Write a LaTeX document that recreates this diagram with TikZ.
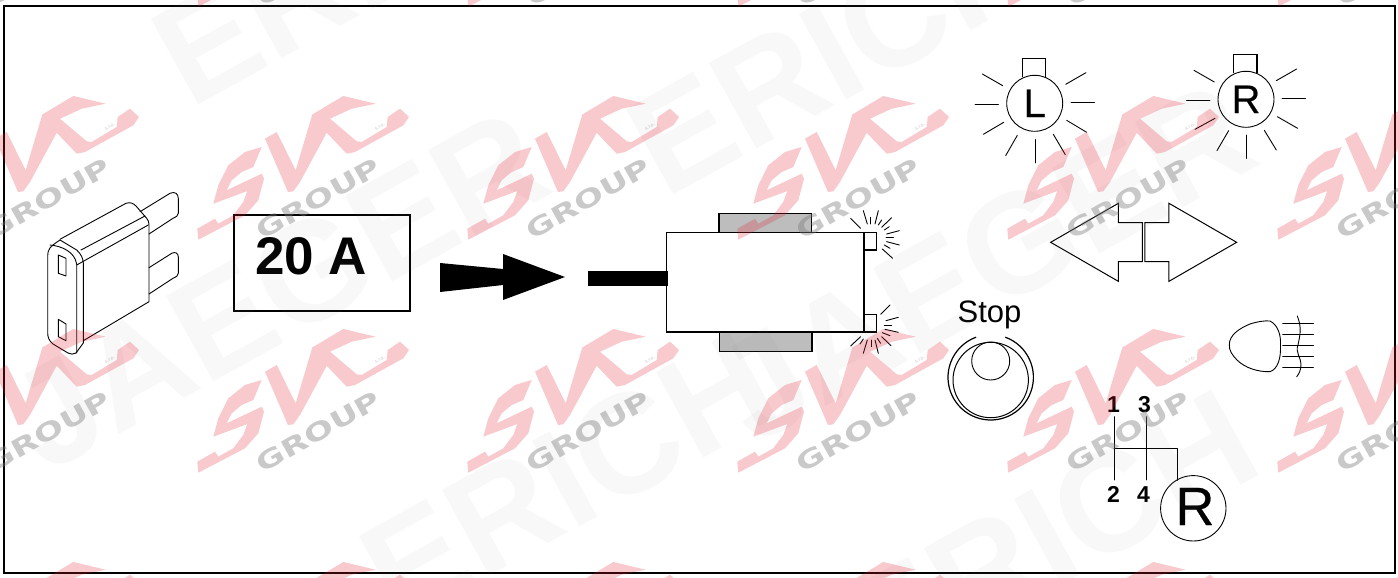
\documentclass[tikz,border=0pt]{standalone}
\usepackage{fontspec}
\setmainfont{Liberation Sans}
\newfontfamily\wmfont{DejaVu Sans}
\newfontfamily\fatsans[FakeBold=0.4]{Liberation Sans}
\definecolor{wmred}{RGB}{228,30,48}
\definecolor{wmgrey}{RGB}{120,120,120}
\definecolor{wmpale}{RGB}{130,130,130}
\definecolor{padgrey}{RGB}{189,189,189}
\tikzset{
  x=1pt,y=-1pt,
  thinln/.style={draw=black,line width=0.9pt,line cap=round,line join=round},
  midln/.style={draw=black,line width=1.2pt,line join=miter},
  frameln/.style={draw=black,line width=2pt},
  lampcirc/.style={circle,draw=black,line width=0.9pt,fill=white,minimum size=56pt,inner sep=0pt,font=\fatsans\fontsize{40}{40}\selectfont},
  gearlabel/.style={inner sep=0pt,font=\bfseries\fontsize{23}{23}\selectfont},
  bigwm/.style={inner sep=0pt,rotate=29,text=wmpale,opacity=0.055,font=\bfseries\fontsize{142}{142}\selectfont},
}
\newcommand{\raylist}[1]{\foreach \a/\b/\c/\d in {#1}{\draw[thinln] (\a,\b) -- (\c,\d);}}
\begin{document}
\begin{tikzpicture}
\useasboundingbox (0,0) rectangle (1398,578);
\clip (0,0) rectangle (1398,578);
\fill[white] (0,0) rectangle (1398,578);

% frame
\draw[frameln] (3.5,6) rectangle (1395,573);

% fuse
\begin{scope}[thinln]
\draw (140,211.7) -- (170,193.3) .. controls (175,191) and (178.3,194) .. (178.3,198.3) -- (178.3,213.3) .. controls (178.3,216) and (176,217) .. (173,218.3) -- (149,234);
\draw (149,267.7) -- (171.7,253.3) .. controls (175,251.5) and (178.3,253) .. (178.3,256.7) -- (178.3,273.3) .. controls (178.3,276) and (176,277) .. (173,278.3) -- (149,294);
\draw (60,239.3) -- (126,203.3) .. controls (130,202) and (133,203) .. (136,206) -- (146.7,218.3) .. controls (148.5,220.5) and (149,222) .. (149,225) -- (149,301.7) -- (83.3,340.7);
\draw (76.7,265) -- (148.3,225);
\draw (81,250) -- (145,216);
\draw (47.7,256) .. controls (47.7,250) and (49,247) .. (60,240) -- (76.7,250) .. controls (81,254) and (83,258) .. (83.3,263) -- (83.3,343) -- (76,353) .. controls (73,354.5) and (71,354.5) .. (68,353) -- (53,344) .. controls (49,341) and (47.7,337) .. (47.7,333) -- cycle;
\draw (50,245) .. controls (62,246) and (75,252) .. (76.7,264.3) -- (76.7,353);
\draw (58.3,255) -- (66,258.3) -- (66,276) -- (58.3,273.3) -- cycle;
\draw (58.3,319.3) -- (66,324) -- (66,340.7) -- (58.3,336.7) -- cycle;
\end{scope}

% 20 A
\node[draw=black,line width=2pt,minimum width=176pt,minimum height=96pt,inner sep=0pt] (ampbox) at (322,263) {};
\node[inner sep=0pt,font=\bfseries\fontsize{53}{53}\selectfont] (amptext) at (311,256.5) {20 A};

% arrow
\fill[black] (440,263) -- (503,269) -- (503,254) -- (565,277) -- (503,300) -- (503,285) -- (440,292) -- cycle;

% module
\draw[midln,fill=padgrey] (719,213.3) rectangle (811.3,232.7);
\draw[midln,fill=padgrey] (719.3,332) rectangle (812,351.3);
\node[draw=black,line width=1.2pt,minimum width=197.3pt,minimum height=99.3pt,inner sep=0pt] (module) at (765.35,282.35) {};
\node[fill=black,minimum width=80pt,minimum height=15pt,inner sep=0pt] (bar) at (628,278.7) {};
\draw[midln] (864,232.7) rectangle (876.7,250);
\draw[midln] (864,314.3) rectangle (876.7,332);
\begin{scope}[shift={(650,190)},x=0.3333pt,y=-0.3333pt]
\raylist{602/85/632/115,640/62/652/102,662/82/662/102,685/62/675/102,695/90/685/105,725/83/695/112,718/110/703/120,748/122/710/132,730/142/708/142,748/165/710/155,720/175/703/165,728/205/697/177}
\raylist{720/345/692/373,745/382/708/392,725/405/703/405,745/427/705/418,720/437/697/428,723/467/695/440,692/460/682/445,685/490/675/450,665/470/665/450,640/490/652/450,630/462/640/447,602/468/632/440}
\end{scope}

% lamps
\begin{scope}[shift={(960,40)},x=0.3333pt,y=-0.3333pt]
\draw[midln] (187,110) -- (187,55) -- (257,55) -- (257,110);
\raylist{67/102/128/137,45/192/115/192,70/283/131/247,137/347/172/286,226/369/226/299,316/344/280/283,380/277/320/241,333/187/403/187,317/133/378/98}
\draw[midln] (821,100) -- (821,44) -- (891,44) -- (891,100);
\raylist{702/91/763/126,680/181/750/181,705/268/765/235,771/332/806/272,860/355/860/285,949/330/913/271,1013/265/952/230,966/175/1036/175,949/122/1010/87}
% direction arrows
\draw[midln,line width=1pt] (475,490) -- (475,548) -- (547,548) -- (547,665) -- (475,665) -- (475,724) -- (272,607) -- cycle;
\draw[midln,line width=1pt] (627,490) -- (627,548) -- (555,548) -- (555,665) -- (627,665) -- (627,724) -- (830,607) -- cycle;
\end{scope}
\node[lampcirc] (lampL) at (1034.7,103.3) {L};
\node[lampcirc] (lampR) at (1246,99.3) {R};

% stop
\node[inner sep=0pt,font=\fontsize{31}{31}\selectfont] (stoptext) at (989.5,314.5) {Stop};
\draw[line width=1.2pt] (990.7,377.3) ++(-70:42.7) arc[start angle=-70,end angle=250,radius=42.7];
\draw[line width=1pt] (990.7,380) circle[radius=37.7];
\draw[line width=0.9pt] (990.7,361) circle[radius=19];

% headlamp
\draw[thinln] (1270,321) .. controls (1278,325) and (1281,335) .. (1280.5,345) .. controls (1281,358) and (1278,369) .. (1270,371.7) .. controls (1258,372) and (1245,368) .. (1237,360) .. controls (1232,355) and (1229,350) .. (1229.3,345) .. controls (1229,335) and (1240,328) .. (1250,324) .. controls (1258,321.5) and (1265,320.5) .. (1270,321);
\foreach \yy in {323.3,334,345,356,367.7}{\draw[thinln] (1282.7,\yy) -- (1313.3,\yy);}
\draw[thinln] (1297.3,316) .. controls (1302,328) and (1300,335) .. (1298,345) .. controls (1295,352) and (1301,358) .. (1301,364) .. controls (1301,370) and (1299,374) .. (1296.7,376.7);

% gear pattern
\node[gearlabel] (g1) at (1113.5,404.5) {1};
\node[gearlabel] (g3) at (1144.5,404.5) {3};
\node[gearlabel] (g2) at (1113.5,494.5) {2};
\node[gearlabel] (g4) at (1143.5,494.5) {4};
\node[circle,draw=black,line width=0.9pt,minimum size=65.4pt,inner sep=0pt] (gearR) at (1193.3,508.3) {};
\node[inner sep=0pt,font=\fatsans\fontsize{54}{54}\selectfont] (gearRtext) at (1195,506.5) {R};
\coordinate (gj) at (1114,448.3);
\coordinate (gk) at (1146,448.3);
\coordinate (gc) at (1177.3,448.3);
\draw[thinln] (1114,416.7) -- (gj) -- (1114,480);
\draw[thinln] (1146,416.7) -- (gk) -- (1146,480);
\draw[thinln] (gj) -- (gc) -- (1177.3,480.3);

% watermark: large lettering
\node[bigwm] (wm1) at (278,290) {JAEGER};
\node[bigwm] (wm2) at (568,477) {ERICH};
\node[bigwm] (wm3) at (985,262) {JAEGER};
\node[bigwm] (wm4) at (835,50) {ERICH};
\node[bigwm] (wm5) at (360,-40) {ERICH};
\node[bigwm] (wm6) at (1050,535) {ERICH};
\node[bigwm] (wm7) at (1690,250) {JAEGER};

% watermark: logos
\foreach \col in {-1,0,1,2,3,4}{
 \foreach \row in {-1,0,1,2}{
  \begin{scope}[shift={(270*\col,233*\row)}]
  \fill[wmred,opacity=0.24]
    (343.3,96) -- (375.7,103.7) -- (351.7,108.7) -- (330,118.7) -- (356.7,141.3) -- (361.7,142) -- (386.7,127) -- (387.7,117) -- (400,108.7) -- (409,117) -- (403.3,125.3) -- (355,152) -- (346.7,153.7) -- (326.7,132.7) -- (300,182) -- (293.3,191.3) -- (288,192) -- (265,138.7) -- (276.7,132) -- (295.7,170.3) -- (312.3,114.5) -- cycle
    (261.7,147) -- (253.3,167) -- (241.7,172) -- (231.7,180.3) -- (226.7,190.3) -- (261.7,173.7) -- (264,178.7) -- (258.3,200.3) -- (245,215.3) -- (198.3,239.7) -- (197.3,228.7) -- (215,218.7) -- (218.3,223.7) -- (233.3,215.3) -- (243.3,202) -- (247.3,191) -- (213.3,203.7) -- (218.3,185.3) -- (228.3,165.3) -- (245,152) -- cycle;
  \node[inner sep=0pt,rotate=29.5,xscale=1.12,yscale=0.8,text=wmgrey,opacity=0.4,font=\wmfont\bfseries\fontsize{31}{31}\selectfont] at (318.3,198.7) {GROUP};
  \node[inner sep=0pt,rotate=29.5,text=wmgrey,opacity=0.4,font=\fontsize{5}{5}\selectfont] at (380,126.5) {s.r.o.};
  \end{scope}
 }
}
\end{tikzpicture}
\end{document}
